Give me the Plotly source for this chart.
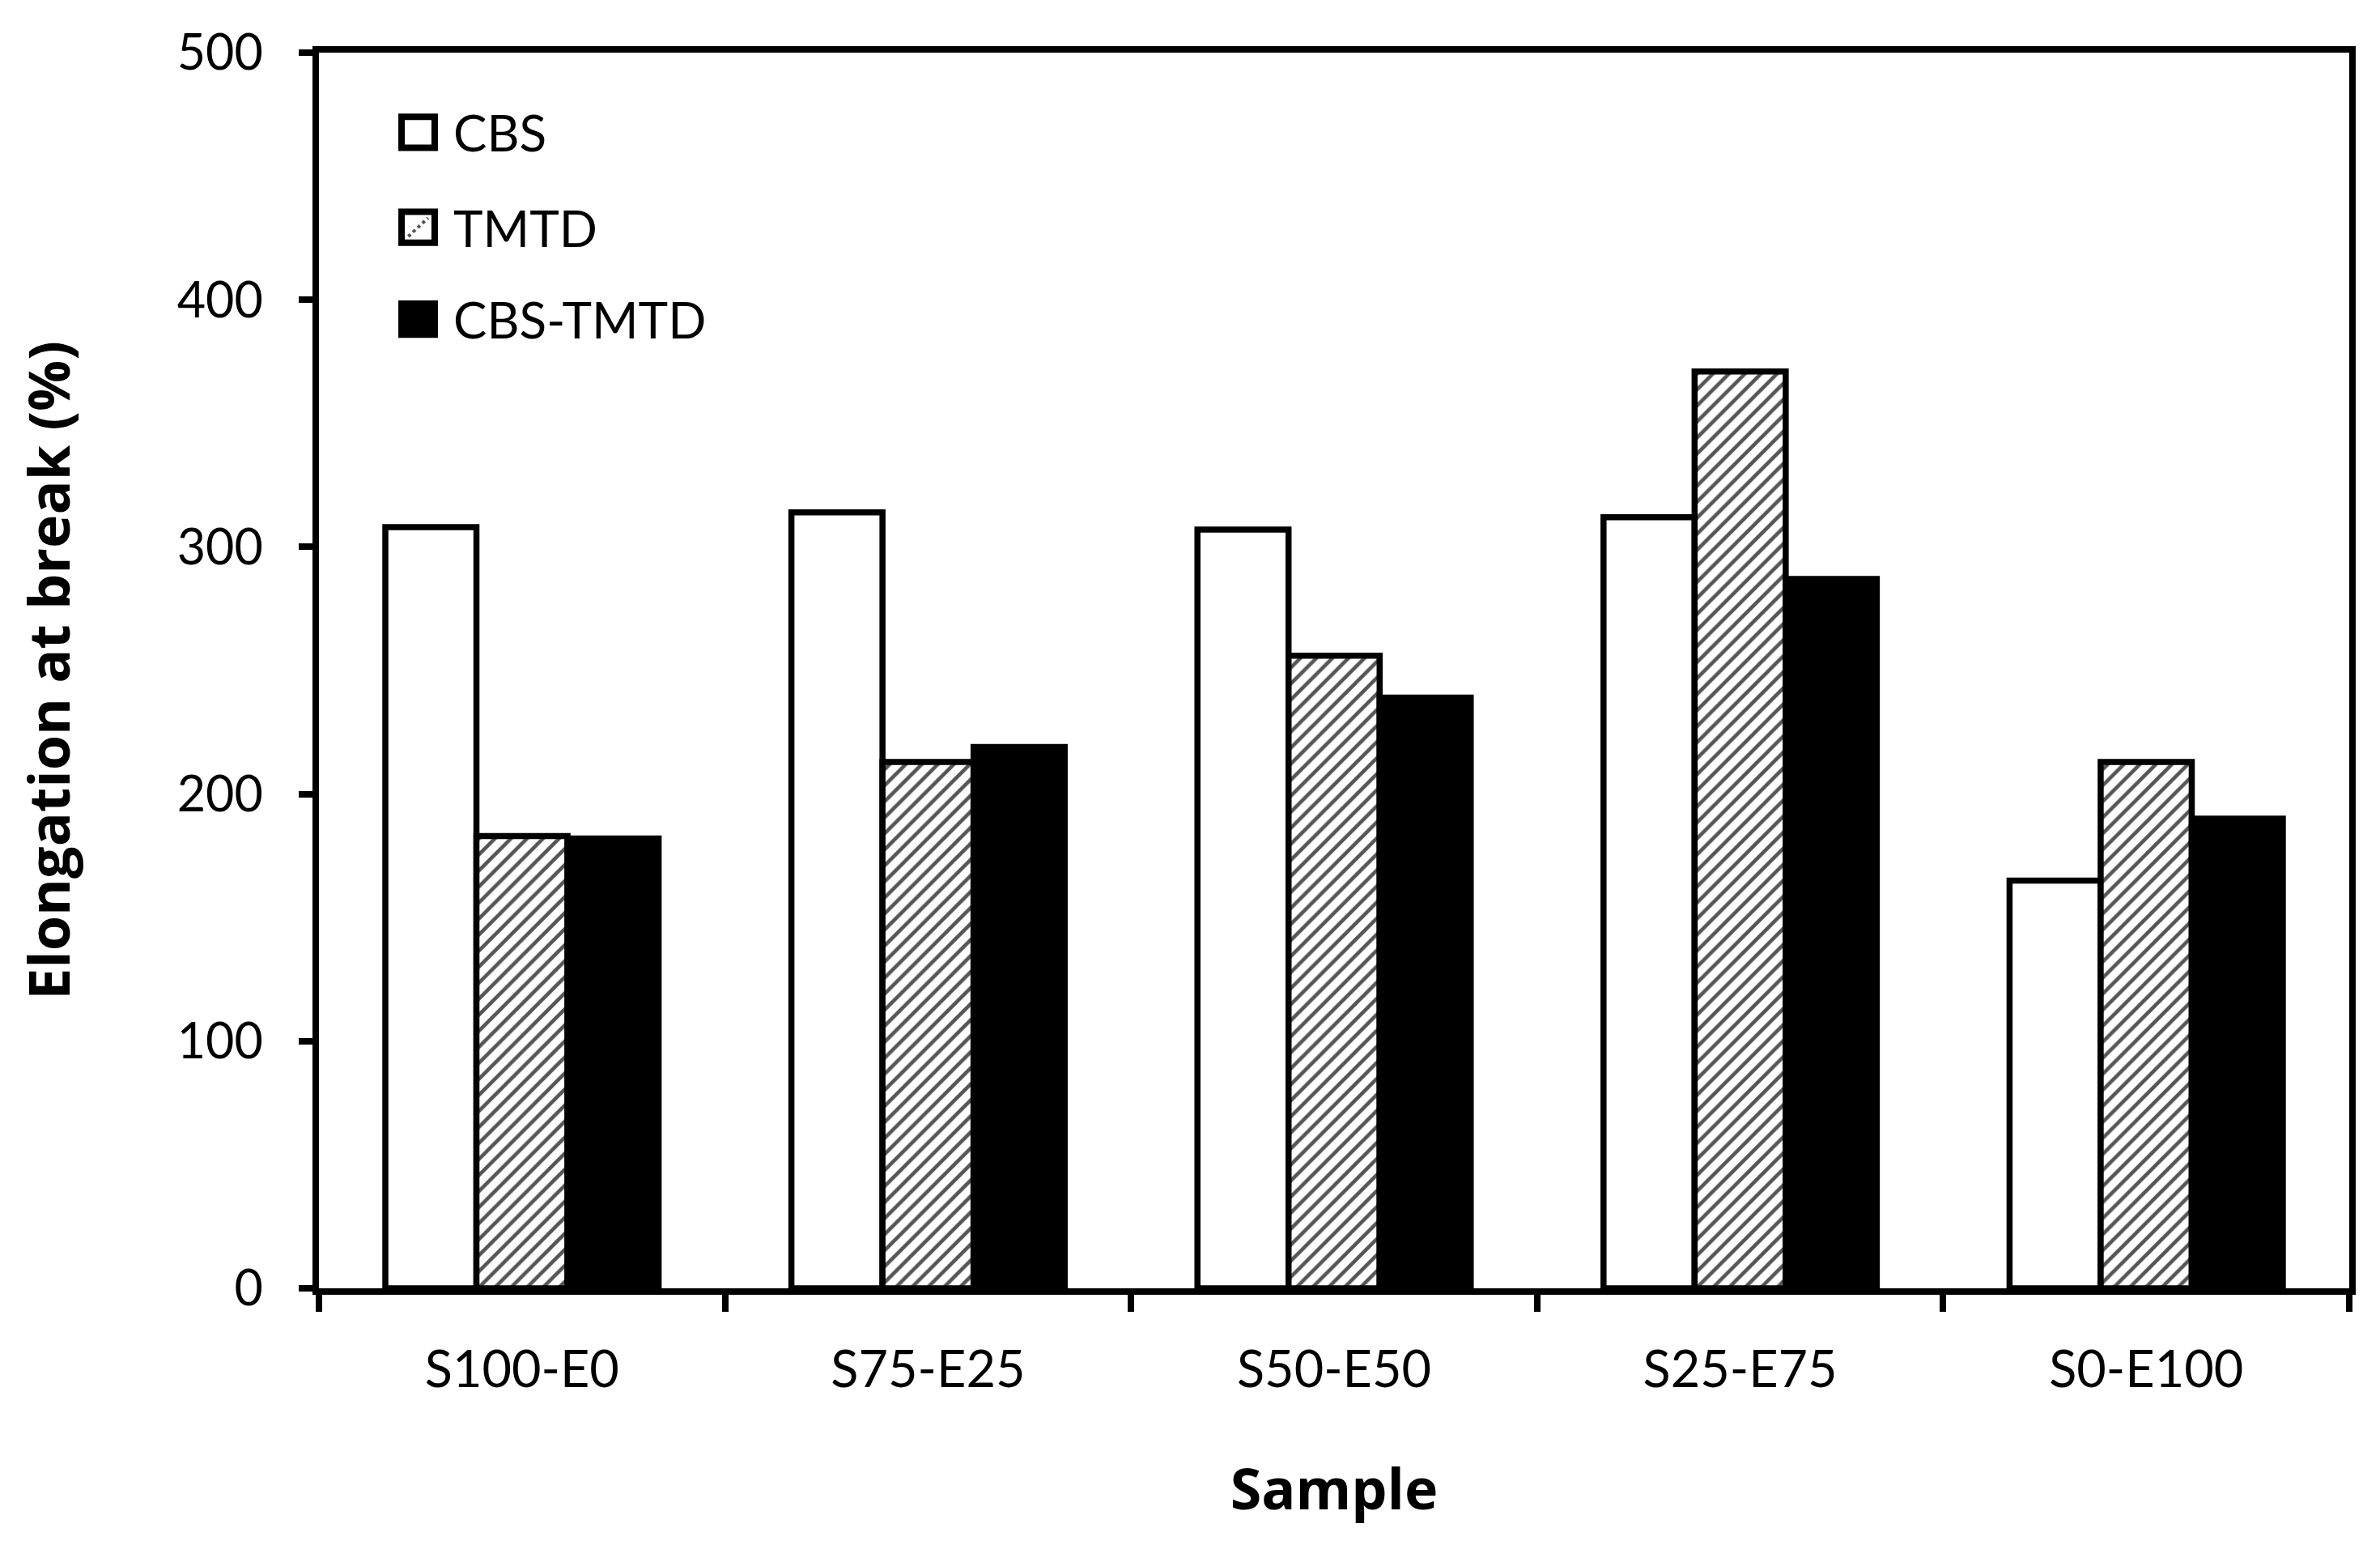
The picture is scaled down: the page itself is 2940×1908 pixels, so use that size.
import plotly.graph_objects as go

samples = ["S100-E0", "S75-E25", "S50-E50", "S25-E75", "S0-E100"]
cbs = [308, 314, 307, 312, 165]
tmtd = [183, 213, 256, 371, 213]
cbs_tmtd = [182, 219, 239, 287, 190]
series_names = ["CBS", "TMTD", "CBS-TMTD"]
y_ticks = [0, 100, 200, 300, 400, 500]

tick_font = "Lato, Liberation Sans, sans-serif"
title_font = "Open Sans, DejaVu Sans, sans-serif"
LW = 7.5

fig = go.Figure()
fig.add_trace(go.Bar(x=samples, y=cbs, name=series_names[0],
                     marker=dict(color="white", line=dict(color="black", width=LW))))
fig.add_trace(go.Bar(x=samples, y=tmtd, name=series_names[1],
                     marker=dict(color="white", line=dict(color="black", width=LW),
                                 pattern=dict(shape="/", fgcolor="#555555", bgcolor="white",
                                              size=14, solidity=0.33, fillmode="replace"))))
fig.add_trace(go.Bar(x=samples, y=cbs_tmtd, name=series_names[2],
                     marker=dict(color="black", line=dict(color="black", width=LW))))

# manual legend (large swatches, as in the reference)
shapes = []
annotations = []
sw_x0, sw_x1 = 0.0407, 0.0570
row_tops = [0.9480, 0.8712, 0.7968]
sw_h = 0.025
fills = ["white", "white", "black"]
for i, name in enumerate(series_names):
    y1 = row_tops[i]
    y0 = y1 - sw_h
    shapes.append(dict(type="rect", xref="paper", yref="paper", x0=sw_x0, x1=sw_x1,
                       y0=y0, y1=y1, fillcolor=fills[i], line=dict(color="black", width=8)))
    if name == "TMTD":
        dx = sw_x1 - sw_x0
        dy = y1 - y0
        path = (f"M{sw_x0 + 0.2*dx},{y0 + 0.2*dy} L{sw_x1 - 0.2*dx},{y1 - 0.2*dy}")
        shapes.append(dict(type="path", xref="paper", yref="paper", path=path,
                           line=dict(color="#555555", width=4, dash="dot")))
    annotations.append(dict(xref="paper", yref="paper", x=0.0654, y=(y0 + y1) / 2,
                            text=name, showarrow=False, xanchor="left", yanchor="middle",
                            font=dict(family=tick_font, size=62, color="black")))

fig.update_layout(
    width=2924, height=1892,
    paper_bgcolor="white", plot_bgcolor="white",
    margin=dict(l=386, r=30, t=57, b=309),
    barmode="group", bargap=0.327, bargroupgap=0,
    showlegend=False,
    shapes=shapes, annotations=annotations,
    xaxis=dict(
        type="category", tickson="boundaries", ticks="outside", ticklen=21, tickwidth=8,
        tickcolor="black", showline=True, linecolor="black", linewidth=8, mirror=True,
        showgrid=False, tickfont=dict(family=tick_font, size=63, color="black"),
        ticklabelstandoff=38,
        title=dict(text="<b>Sample</b>", font=dict(family=title_font, size=70, color="black"),
                   standoff=93),
    ),
    yaxis=dict(
        range=[0, 500], tickvals=y_ticks, ticks="outside", ticklen=17, tickwidth=8,
        tickcolor="black", showline=True, linecolor="black", linewidth=8, mirror=True,
        showgrid=False, zeroline=False,
        tickfont=dict(family=tick_font, size=61, color="black"),
        ticklabelstandoff=32,
        title=dict(text="<b>Elongation at break (%)</b>",
                   font=dict(family=title_font, size=70, color="black"), standoff=112),
    ),
)

fig.write_html("out.html")
